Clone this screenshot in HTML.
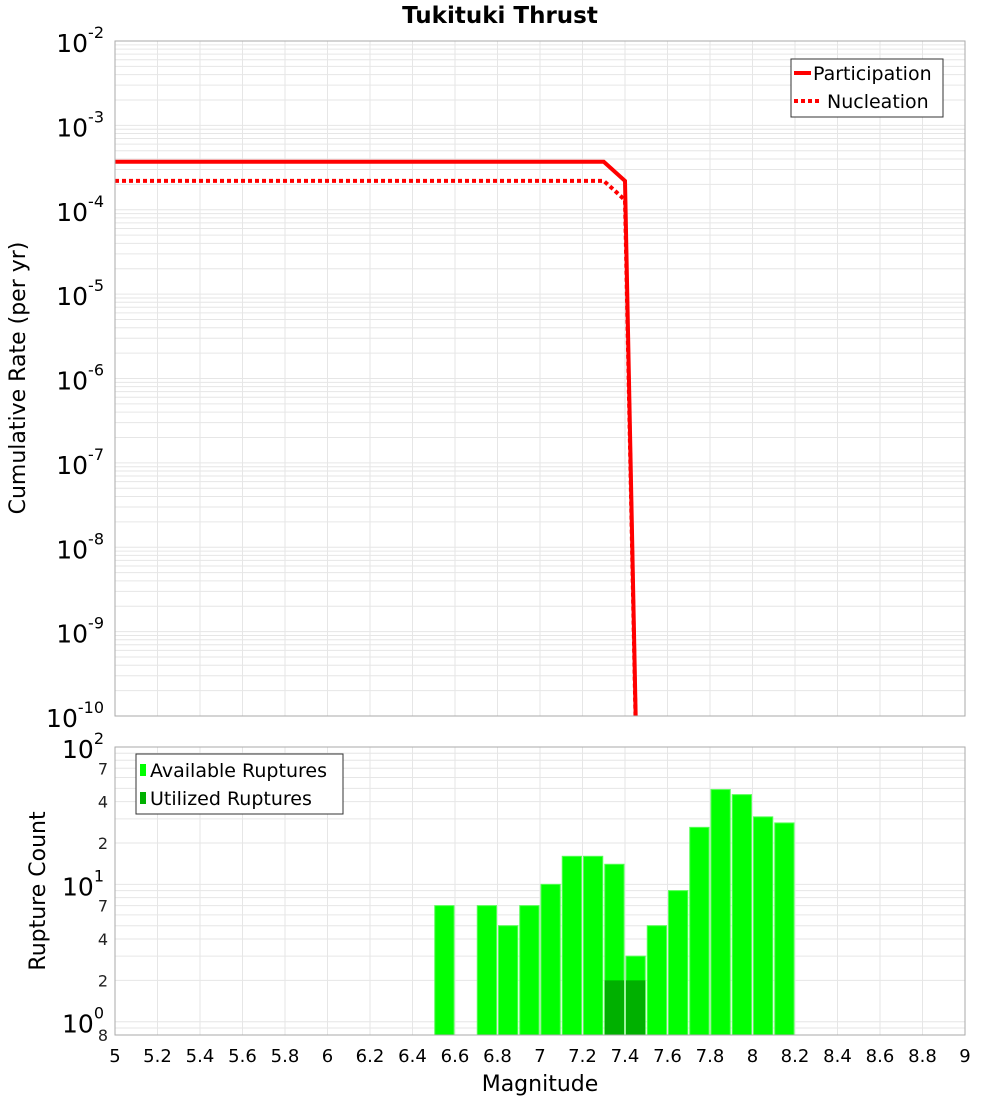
<!DOCTYPE html>
<html><head><meta charset="utf-8"><style>
body{margin:0;background:#fff;width:1000px;height:1100px;overflow:hidden;font-family:"Liberation Sans","DejaVu Sans",sans-serif}
svg text{font-family:"DejaVu Sans","Liberation Sans",sans-serif}
</style></head><body>
<svg id="chart" width="1000" height="1100" xmlns="http://www.w3.org/2000/svg">
<text x="500" y="23" text-anchor="middle" font-size="23" font-weight="bold">Tukituki Thrust</text>
<g id="topplot"></g><g id="botplot"></g>
</svg>
<script>
const partMags=[5,7.3,7.4,7.5];
const partRates=[3.7e-4,3.7e-4,2.2e-4,5e-17];
const nuclMags=[5,7.3,7.35,7.4,7.5];
const nuclRates=[2.2e-4,2.2e-4,1.7e-4,1.3e-4,5e-17];
const binStarts=[6.5,6.7,6.8,6.9,7.0,7.1,7.2,7.3,7.4,7.5,7.6,7.7,7.8,7.9,8.0,8.1];
const availCounts=[7,7,5,7,10,16,16,14,3,5,9,26,49,45,31,28];
const utilStarts=[7.3,7.4];
const utilCounts=[2,2];
const xTicks=[5,5.2,5.4,5.6,5.8,6,6.2,6.4,6.6,6.8,7,7.2,7.4,7.6,7.8,8,8.2,8.4,8.6,8.8,9];

const NS="http://www.w3.org/2000/svg";
function el(p,t,a){const e=document.createElementNS(NS,t);for(const k in a)e.setAttribute(k,a[k]);p.appendChild(e);return e;}
const X0=115,X1=965;
const xs=m=>X0+(m-5)/4*(X1-X0);
const T0=41,T1=716;
const ty=v=>T0+(-2-Math.log10(v))/8*(T1-T0);
const B0=747,B1=1035,bmin=Math.log10(0.8),bmax=2;
const by=v=>B1-(Math.log10(v)-bmin)/(bmax-bmin)*(B1-B0);

const topG=document.getElementById('topplot'),botG=document.getElementById('botplot');
for(let d=-10;d<-2;d++)for(let k=1;k<10;k++){const y=ty(k*Math.pow(10,d));const g=el(topG,'line',{x1:X0,x2:X1,y1:y,y2:y,stroke:'#e6e6e6','stroke-width':1});

}
for(const t of xTicks){const g=el(topG,'line',{x1:xs(t),x2:xs(t),y1:T0,y2:T1,stroke:'#e6e6e6'});

}
const cp=el(topG,'clipPath',{id:'cpt'});el(cp,'rect',{x:X0,y:T0,width:X1-X0,height:T1-T0});
function drawLine(ms,rs,dash,name){const pts=ms.map((m,i)=>xs(m)+','+ty(rs[i])).join(' ');
const p=el(topG,'polyline',{points:pts,fill:'none',stroke:'#ff0000','stroke-width':4,'clip-path':'url(#cpt)'});
if(dash)p.setAttribute('stroke-dasharray','4,3');

}
drawLine(nuclMags,nuclRates,true,'nucleation-line');
drawLine(partMags,partRates,false,'participation-line');
el(topG,'rect',{x:X0,y:T0,width:X1-X0,height:T1-T0,fill:'none',stroke:'#aaa'});
for(let d=-10;d<=-2;d++){const y=ty(Math.pow(10,d));const t=el(topG,'text',{x:104,y:y+11,'text-anchor':'end','font-size':25});


t.innerHTML='10<tspan dy="-14" font-size="16">'+d+'</tspan>';}
const yt=el(topG,'text',{x:0,y:0,'text-anchor':'middle','font-size':22,transform:'translate(25,378) rotate(-90)'});
yt.textContent='Cumulative Rate (per yr)';


const lg=el(topG,'g',{});


el(lg,'rect',{x:791,y:59,width:152,height:58,fill:'#fff',stroke:'#333'});
el(lg,'line',{x1:794,x2:811,y1:73,y2:73,stroke:'#f00','stroke-width':4});
el(lg,'line',{x1:794,x2:820,y1:101,y2:101,stroke:'#f00','stroke-width':4,'stroke-dasharray':'4,3'});
let lt=el(lg,'text',{x:813,y:80,'font-size':19});lt.textContent='Participation';
lt=el(lg,'text',{x:827,y:108,'font-size':19});lt.textContent='Nucleation';

for(let d=-1;d<2;d++)for(let k=1;k<10;k++){const v=k*Math.pow(10,d);if(v<0.8)continue;const y=by(v);const g=el(botG,'line',{x1:X0,x2:X1,y1:y,y2:y,stroke:'#e6e6e6'});

}
for(const t of xTicks){const g=el(botG,'line',{x1:xs(t),x2:xs(t),y1:B0,y2:B1,stroke:'#e6e6e6'});

}
const bw=xs(5.1)-xs(5);
binStarts.forEach((s,i)=>{const r=el(botG,'rect',{x:xs(s)+1,y:by(availCounts[i]),width:bw-2,height:B1-by(availCounts[i]),fill:'#00ff00',stroke:'#55ff55','stroke-width':1});

});
utilStarts.forEach((s,i)=>{const r=el(botG,'rect',{x:xs(s)+1,y:by(utilCounts[i]),width:bw-2,height:B1-by(utilCounts[i]),fill:'#00b000'});

});
el(botG,'rect',{x:X0,y:B0,width:X1-X0,height:B1-B0,fill:'none',stroke:'#aaa'});
for(let d=0;d<=2;d++){const y=by(Math.pow(10,d));const t=el(botG,'text',{x:104,y:y+11,'text-anchor':'end','font-size':25});


t.innerHTML='10<tspan dy="-14" font-size="16">'+d+'</tspan>';}
for(const v of [2,4,7,20,40,70,0.8]){const t=el(botG,'text',{x:108,y:by(v)+6,'text-anchor':'end','font-size':16,fill:'#222'});
t.textContent=v<1?'8':String(v).charAt(0);

}
for(const tk of xTicks){const t=el(botG,'text',{x:xs(tk),y:1062,'text-anchor':'middle','font-size':18});
t.textContent=String(tk);

}
const xt=el(botG,'text',{x:540,y:1091,'text-anchor':'middle','font-size':22});xt.textContent='Magnitude';


const yb=el(botG,'text',{x:0,y:0,'text-anchor':'middle','font-size':22,transform:'translate(45,891) rotate(-90)'});
yb.textContent='Rupture Count';


const lb=el(botG,'g',{});


el(lb,'rect',{x:136,y:754,width:207,height:60,fill:'#fff',stroke:'#333'});
el(lb,'rect',{x:140,y:764,width:6,height:12,fill:'#00ff00'});
el(lb,'rect',{x:140,y:792,width:6,height:12,fill:'#00b000'});
let b=el(lb,'text',{x:150,y:777,'font-size':19});b.textContent='Available Ruptures';
b=el(lb,'text',{x:150,y:805,'font-size':19});b.textContent='Utilized Ruptures';
</script>
</body></html>
